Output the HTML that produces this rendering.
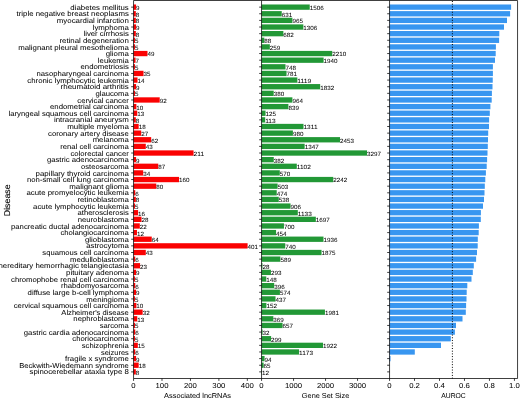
<!DOCTYPE html><html><head><meta charset="utf-8"><title>chart</title><style>html,body{margin:0;padding:0;background:#fff;width:520px;height:398px;overflow:hidden;}svg{display:block;}text{font-family:"Liberation Sans",sans-serif;text-rendering:geometricPrecision;fill:#000000;stroke:#000000;stroke-width:0.03px;}</style></head><body>
<svg width="520" height="398" viewBox="0 0 520 398">
<defs><filter id="g" filterUnits="userSpaceOnUse" x="0" y="0" width="520" height="398"><feOffset dx="0" dy="0"/></filter></defs>
<rect width="520" height="398" fill="#fff"/>
<rect x="133.55" y="4.48" width="2.56" height="5.31" fill="#fa0202"/>
<rect x="261.55" y="4.48" width="48.19" height="5.31" fill="#229836"/>
<rect x="389.55" y="4.48" width="121.55" height="5.31" fill="#3896f0"/>
<rect x="133.55" y="11.11" width="2.28" height="5.31" fill="#fa0202"/>
<rect x="261.55" y="11.11" width="20.19" height="5.31" fill="#229836"/>
<rect x="389.55" y="11.11" width="120.55" height="5.31" fill="#3896f0"/>
<rect x="133.55" y="17.74" width="2.28" height="5.31" fill="#fa0202"/>
<rect x="261.55" y="17.74" width="30.88" height="5.31" fill="#229836"/>
<rect x="389.55" y="17.74" width="117.45" height="5.31" fill="#3896f0"/>
<rect x="133.55" y="24.37" width="2.56" height="5.31" fill="#fa0202"/>
<rect x="261.55" y="24.37" width="41.79" height="5.31" fill="#229836"/>
<rect x="389.55" y="24.37" width="114.45" height="5.31" fill="#3896f0"/>
<rect x="133.55" y="31.01" width="2.28" height="5.31" fill="#fa0202"/>
<rect x="261.55" y="31.01" width="21.82" height="5.31" fill="#229836"/>
<rect x="389.55" y="31.01" width="109.75" height="5.31" fill="#3896f0"/>
<rect x="133.55" y="37.64" width="1.42" height="5.31" fill="#fa0202"/>
<rect x="261.55" y="37.64" width="2.82" height="5.31" fill="#229836"/>
<rect x="389.55" y="37.64" width="109.55" height="5.31" fill="#3896f0"/>
<rect x="133.55" y="44.27" width="1.42" height="5.31" fill="#fa0202"/>
<rect x="261.55" y="44.27" width="8.29" height="5.31" fill="#229836"/>
<rect x="389.55" y="44.27" width="106.35" height="5.31" fill="#3896f0"/>
<rect x="133.55" y="50.90" width="13.94" height="5.31" fill="#fa0202"/>
<rect x="261.55" y="50.90" width="70.72" height="5.31" fill="#229836"/>
<rect x="389.55" y="50.90" width="106.15" height="5.31" fill="#3896f0"/>
<rect x="133.55" y="57.53" width="1.99" height="5.31" fill="#fa0202"/>
<rect x="261.55" y="57.53" width="62.08" height="5.31" fill="#229836"/>
<rect x="389.55" y="57.53" width="105.45" height="5.31" fill="#3896f0"/>
<rect x="133.55" y="64.16" width="1.42" height="5.31" fill="#fa0202"/>
<rect x="261.55" y="64.16" width="23.94" height="5.31" fill="#229836"/>
<rect x="389.55" y="64.16" width="103.35" height="5.31" fill="#3896f0"/>
<rect x="133.55" y="70.79" width="9.96" height="5.31" fill="#fa0202"/>
<rect x="261.55" y="70.79" width="24.99" height="5.31" fill="#229836"/>
<rect x="389.55" y="70.79" width="103.35" height="5.31" fill="#3896f0"/>
<rect x="133.55" y="77.43" width="3.98" height="5.31" fill="#fa0202"/>
<rect x="261.55" y="77.43" width="35.81" height="5.31" fill="#229836"/>
<rect x="389.55" y="77.43" width="103.20" height="5.31" fill="#3896f0"/>
<rect x="133.55" y="84.06" width="2.56" height="5.31" fill="#fa0202"/>
<rect x="261.55" y="84.06" width="58.62" height="5.31" fill="#229836"/>
<rect x="389.55" y="84.06" width="102.95" height="5.31" fill="#3896f0"/>
<rect x="133.55" y="90.69" width="1.42" height="5.31" fill="#fa0202"/>
<rect x="261.55" y="90.69" width="12.16" height="5.31" fill="#229836"/>
<rect x="389.55" y="90.69" width="102.35" height="5.31" fill="#3896f0"/>
<rect x="133.55" y="97.32" width="26.17" height="5.31" fill="#fa0202"/>
<rect x="261.55" y="97.32" width="30.85" height="5.31" fill="#229836"/>
<rect x="389.55" y="97.32" width="102.15" height="5.31" fill="#3896f0"/>
<rect x="133.55" y="103.95" width="2.84" height="5.31" fill="#fa0202"/>
<rect x="261.55" y="103.95" width="26.85" height="5.31" fill="#229836"/>
<rect x="389.55" y="103.95" width="100.85" height="5.31" fill="#3896f0"/>
<rect x="133.55" y="110.58" width="3.70" height="5.31" fill="#fa0202"/>
<rect x="261.55" y="110.58" width="4.00" height="5.31" fill="#229836"/>
<rect x="389.55" y="110.58" width="100.25" height="5.31" fill="#3896f0"/>
<rect x="133.55" y="117.22" width="2.28" height="5.31" fill="#fa0202"/>
<rect x="261.55" y="117.22" width="3.62" height="5.31" fill="#229836"/>
<rect x="389.55" y="117.22" width="99.55" height="5.31" fill="#3896f0"/>
<rect x="133.55" y="123.85" width="5.12" height="5.31" fill="#fa0202"/>
<rect x="261.55" y="123.85" width="41.95" height="5.31" fill="#229836"/>
<rect x="389.55" y="123.85" width="99.45" height="5.31" fill="#3896f0"/>
<rect x="133.55" y="130.48" width="7.68" height="5.31" fill="#fa0202"/>
<rect x="261.55" y="130.48" width="31.36" height="5.31" fill="#229836"/>
<rect x="389.55" y="130.48" width="98.65" height="5.31" fill="#3896f0"/>
<rect x="133.55" y="137.11" width="17.64" height="5.31" fill="#fa0202"/>
<rect x="261.55" y="137.11" width="78.50" height="5.31" fill="#229836"/>
<rect x="389.55" y="137.11" width="98.45" height="5.31" fill="#3896f0"/>
<rect x="133.55" y="143.74" width="12.23" height="5.31" fill="#fa0202"/>
<rect x="261.55" y="143.74" width="43.10" height="5.31" fill="#229836"/>
<rect x="389.55" y="143.74" width="98.25" height="5.31" fill="#3896f0"/>
<rect x="133.55" y="150.37" width="60.02" height="5.31" fill="#fa0202"/>
<rect x="261.55" y="150.37" width="105.50" height="5.31" fill="#229836"/>
<rect x="389.55" y="150.37" width="97.95" height="5.31" fill="#3896f0"/>
<rect x="133.55" y="157.01" width="2.56" height="5.31" fill="#fa0202"/>
<rect x="261.55" y="157.01" width="12.22" height="5.31" fill="#229836"/>
<rect x="389.55" y="157.01" width="97.55" height="5.31" fill="#3896f0"/>
<rect x="133.55" y="163.64" width="24.75" height="5.31" fill="#fa0202"/>
<rect x="261.55" y="163.64" width="35.26" height="5.31" fill="#229836"/>
<rect x="389.55" y="163.64" width="97.15" height="5.31" fill="#3896f0"/>
<rect x="133.55" y="170.27" width="9.67" height="5.31" fill="#fa0202"/>
<rect x="261.55" y="170.27" width="18.24" height="5.31" fill="#229836"/>
<rect x="389.55" y="170.27" width="96.35" height="5.31" fill="#3896f0"/>
<rect x="133.55" y="176.90" width="45.51" height="5.31" fill="#fa0202"/>
<rect x="261.55" y="176.90" width="71.74" height="5.31" fill="#229836"/>
<rect x="389.55" y="176.90" width="95.75" height="5.31" fill="#3896f0"/>
<rect x="133.55" y="183.53" width="22.76" height="5.31" fill="#fa0202"/>
<rect x="261.55" y="183.53" width="16.10" height="5.31" fill="#229836"/>
<rect x="389.55" y="183.53" width="95.25" height="5.31" fill="#3896f0"/>
<rect x="133.55" y="190.16" width="1.71" height="5.31" fill="#fa0202"/>
<rect x="261.55" y="190.16" width="15.17" height="5.31" fill="#229836"/>
<rect x="389.55" y="190.16" width="94.95" height="5.31" fill="#3896f0"/>
<rect x="133.55" y="196.79" width="2.28" height="5.31" fill="#fa0202"/>
<rect x="261.55" y="196.79" width="17.22" height="5.31" fill="#229836"/>
<rect x="389.55" y="196.79" width="94.45" height="5.31" fill="#3896f0"/>
<rect x="133.55" y="203.43" width="1.42" height="5.31" fill="#fa0202"/>
<rect x="261.55" y="203.43" width="28.99" height="5.31" fill="#229836"/>
<rect x="389.55" y="203.43" width="93.45" height="5.31" fill="#3896f0"/>
<rect x="133.55" y="210.06" width="4.55" height="5.31" fill="#fa0202"/>
<rect x="261.55" y="210.06" width="36.26" height="5.31" fill="#229836"/>
<rect x="389.55" y="210.06" width="91.35" height="5.31" fill="#3896f0"/>
<rect x="133.55" y="216.69" width="7.96" height="5.31" fill="#fa0202"/>
<rect x="261.55" y="216.69" width="54.30" height="5.31" fill="#229836"/>
<rect x="389.55" y="216.69" width="91.25" height="5.31" fill="#3896f0"/>
<rect x="133.55" y="223.32" width="6.26" height="5.31" fill="#fa0202"/>
<rect x="261.55" y="223.32" width="22.40" height="5.31" fill="#229836"/>
<rect x="389.55" y="223.32" width="89.35" height="5.31" fill="#3896f0"/>
<rect x="133.55" y="229.95" width="3.41" height="5.31" fill="#fa0202"/>
<rect x="261.55" y="229.95" width="14.53" height="5.31" fill="#229836"/>
<rect x="389.55" y="229.95" width="89.15" height="5.31" fill="#3896f0"/>
<rect x="133.55" y="236.58" width="18.20" height="5.31" fill="#fa0202"/>
<rect x="261.55" y="236.58" width="61.95" height="5.31" fill="#229836"/>
<rect x="389.55" y="236.58" width="88.25" height="5.31" fill="#3896f0"/>
<rect x="133.55" y="243.22" width="114.06" height="5.31" fill="#fa0202"/>
<rect x="261.55" y="243.22" width="23.68" height="5.31" fill="#229836"/>
<rect x="389.55" y="243.22" width="88.15" height="5.31" fill="#3896f0"/>
<rect x="133.55" y="249.85" width="12.23" height="5.31" fill="#fa0202"/>
<rect x="261.55" y="249.85" width="60.00" height="5.31" fill="#229836"/>
<rect x="389.55" y="249.85" width="87.45" height="5.31" fill="#3896f0"/>
<rect x="133.55" y="256.48" width="1.71" height="5.31" fill="#fa0202"/>
<rect x="261.55" y="256.48" width="18.85" height="5.31" fill="#229836"/>
<rect x="389.55" y="256.48" width="86.55" height="5.31" fill="#3896f0"/>
<rect x="133.55" y="263.11" width="6.54" height="5.31" fill="#fa0202"/>
<rect x="261.55" y="263.11" width="0.90" height="5.31" fill="#229836"/>
<rect x="389.55" y="263.11" width="84.25" height="5.31" fill="#3896f0"/>
<rect x="133.55" y="269.74" width="2.56" height="5.31" fill="#fa0202"/>
<rect x="261.55" y="269.74" width="9.38" height="5.31" fill="#229836"/>
<rect x="389.55" y="269.74" width="83.25" height="5.31" fill="#3896f0"/>
<rect x="133.55" y="276.37" width="1.42" height="5.31" fill="#fa0202"/>
<rect x="261.55" y="276.37" width="4.74" height="5.31" fill="#229836"/>
<rect x="389.55" y="276.37" width="81.95" height="5.31" fill="#3896f0"/>
<rect x="133.55" y="283.01" width="1.71" height="5.31" fill="#fa0202"/>
<rect x="261.55" y="283.01" width="12.67" height="5.31" fill="#229836"/>
<rect x="389.55" y="283.01" width="77.75" height="5.31" fill="#3896f0"/>
<rect x="133.55" y="289.64" width="2.56" height="5.31" fill="#fa0202"/>
<rect x="261.55" y="289.64" width="18.37" height="5.31" fill="#229836"/>
<rect x="389.55" y="289.64" width="77.15" height="5.31" fill="#3896f0"/>
<rect x="133.55" y="296.27" width="1.42" height="5.31" fill="#fa0202"/>
<rect x="261.55" y="296.27" width="13.98" height="5.31" fill="#229836"/>
<rect x="389.55" y="296.27" width="76.95" height="5.31" fill="#3896f0"/>
<rect x="133.55" y="302.90" width="2.84" height="5.31" fill="#fa0202"/>
<rect x="261.55" y="302.90" width="4.86" height="5.31" fill="#229836"/>
<rect x="389.55" y="302.90" width="76.55" height="5.31" fill="#3896f0"/>
<rect x="133.55" y="309.53" width="9.10" height="5.31" fill="#fa0202"/>
<rect x="261.55" y="309.53" width="63.39" height="5.31" fill="#229836"/>
<rect x="389.55" y="309.53" width="76.25" height="5.31" fill="#3896f0"/>
<rect x="133.55" y="316.16" width="3.70" height="5.31" fill="#fa0202"/>
<rect x="261.55" y="316.16" width="11.81" height="5.31" fill="#229836"/>
<rect x="389.55" y="316.16" width="72.95" height="5.31" fill="#3896f0"/>
<rect x="133.55" y="322.79" width="1.42" height="5.31" fill="#fa0202"/>
<rect x="261.55" y="322.79" width="21.02" height="5.31" fill="#229836"/>
<rect x="389.55" y="322.79" width="66.45" height="5.31" fill="#3896f0"/>
<rect x="133.55" y="329.43" width="1.71" height="5.31" fill="#fa0202"/>
<rect x="261.55" y="329.43" width="1.02" height="5.31" fill="#229836"/>
<rect x="389.55" y="329.43" width="65.35" height="5.31" fill="#3896f0"/>
<rect x="133.55" y="336.06" width="1.42" height="5.31" fill="#fa0202"/>
<rect x="261.55" y="336.06" width="9.57" height="5.31" fill="#229836"/>
<rect x="389.55" y="336.06" width="61.25" height="5.31" fill="#3896f0"/>
<rect x="133.55" y="342.69" width="4.27" height="5.31" fill="#fa0202"/>
<rect x="261.55" y="342.69" width="61.50" height="5.31" fill="#229836"/>
<rect x="389.55" y="342.69" width="51.45" height="5.31" fill="#3896f0"/>
<rect x="133.55" y="349.32" width="1.71" height="5.31" fill="#fa0202"/>
<rect x="261.55" y="349.32" width="37.54" height="5.31" fill="#229836"/>
<rect x="389.55" y="349.32" width="25.25" height="5.31" fill="#3896f0"/>
<rect x="133.55" y="355.95" width="2.56" height="5.31" fill="#fa0202"/>
<rect x="261.55" y="355.95" width="3.01" height="5.31" fill="#229836"/>
<rect x="389.55" y="355.95" width="0.95" height="5.31" fill="#3896f0"/>
<rect x="133.55" y="362.58" width="5.12" height="5.31" fill="#fa0202"/>
<rect x="261.55" y="362.58" width="2.08" height="5.31" fill="#229836"/>
<rect x="133.55" y="369.22" width="2.28" height="5.31" fill="#fa0202"/>
<rect x="261.55" y="369.22" width="0.38" height="5.31" fill="#229836"/>
<line x1="452.39" y1="1.00" x2="452.39" y2="378.50" stroke="#000" stroke-width="1.00" stroke-dasharray="1.0 1.69"/>
<g filter="url(#g)">
<text x="136.11" y="10.03" font-size="6.00" textLength="3.50" lengthAdjust="spacingAndGlyphs">9</text>
<text x="309.74" y="10.03" font-size="6.00" textLength="14.00" lengthAdjust="spacingAndGlyphs">1506</text>
<text x="135.83" y="16.66" font-size="6.00" textLength="3.50" lengthAdjust="spacingAndGlyphs">8</text>
<text x="281.74" y="16.66" font-size="6.00" textLength="10.50" lengthAdjust="spacingAndGlyphs">631</text>
<text x="135.83" y="23.29" font-size="6.00" textLength="3.50" lengthAdjust="spacingAndGlyphs">8</text>
<text x="292.43" y="23.29" font-size="6.00" textLength="10.50" lengthAdjust="spacingAndGlyphs">965</text>
<text x="136.11" y="29.93" font-size="6.00" textLength="3.50" lengthAdjust="spacingAndGlyphs">9</text>
<text x="303.34" y="29.93" font-size="6.00" textLength="14.00" lengthAdjust="spacingAndGlyphs">1306</text>
<text x="135.83" y="36.56" font-size="6.00" textLength="3.50" lengthAdjust="spacingAndGlyphs">8</text>
<text x="283.37" y="36.56" font-size="6.00" textLength="10.50" lengthAdjust="spacingAndGlyphs">682</text>
<text x="134.97" y="43.19" font-size="6.00" textLength="3.50" lengthAdjust="spacingAndGlyphs">5</text>
<text x="264.37" y="43.19" font-size="6.00" textLength="7.00" lengthAdjust="spacingAndGlyphs">88</text>
<text x="134.97" y="49.82" font-size="6.00" textLength="3.50" lengthAdjust="spacingAndGlyphs">5</text>
<text x="269.84" y="49.82" font-size="6.00" textLength="10.50" lengthAdjust="spacingAndGlyphs">259</text>
<text x="147.49" y="56.45" font-size="6.00" textLength="7.00" lengthAdjust="spacingAndGlyphs">49</text>
<text x="332.27" y="56.45" font-size="6.00" textLength="14.00" lengthAdjust="spacingAndGlyphs">2210</text>
<text x="135.54" y="63.08" font-size="6.00" textLength="3.50" lengthAdjust="spacingAndGlyphs">7</text>
<text x="323.63" y="63.08" font-size="6.00" textLength="14.00" lengthAdjust="spacingAndGlyphs">1940</text>
<text x="134.97" y="69.72" font-size="6.00" textLength="3.50" lengthAdjust="spacingAndGlyphs">5</text>
<text x="285.49" y="69.72" font-size="6.00" textLength="10.50" lengthAdjust="spacingAndGlyphs">748</text>
<text x="143.51" y="76.35" font-size="6.00" textLength="7.00" lengthAdjust="spacingAndGlyphs">35</text>
<text x="286.54" y="76.35" font-size="6.00" textLength="10.50" lengthAdjust="spacingAndGlyphs">781</text>
<text x="137.53" y="82.98" font-size="6.00" textLength="7.00" lengthAdjust="spacingAndGlyphs">14</text>
<text x="297.36" y="82.98" font-size="6.00" textLength="14.00" lengthAdjust="spacingAndGlyphs">1119</text>
<text x="136.11" y="89.61" font-size="6.00" textLength="3.50" lengthAdjust="spacingAndGlyphs">9</text>
<text x="320.17" y="89.61" font-size="6.00" textLength="14.00" lengthAdjust="spacingAndGlyphs">1832</text>
<text x="134.97" y="96.24" font-size="6.00" textLength="3.50" lengthAdjust="spacingAndGlyphs">5</text>
<text x="273.71" y="96.24" font-size="6.00" textLength="10.50" lengthAdjust="spacingAndGlyphs">380</text>
<text x="159.72" y="102.87" font-size="6.00" textLength="7.00" lengthAdjust="spacingAndGlyphs">92</text>
<text x="292.40" y="102.87" font-size="6.00" textLength="10.50" lengthAdjust="spacingAndGlyphs">964</text>
<text x="136.39" y="109.51" font-size="6.00" textLength="7.00" lengthAdjust="spacingAndGlyphs">10</text>
<text x="288.40" y="109.51" font-size="6.00" textLength="10.50" lengthAdjust="spacingAndGlyphs">839</text>
<text x="137.25" y="116.14" font-size="6.00" textLength="7.00" lengthAdjust="spacingAndGlyphs">13</text>
<text x="265.55" y="116.14" font-size="6.00" textLength="10.50" lengthAdjust="spacingAndGlyphs">125</text>
<text x="135.83" y="122.77" font-size="6.00" textLength="3.50" lengthAdjust="spacingAndGlyphs">8</text>
<text x="265.17" y="122.77" font-size="6.00" textLength="10.50" lengthAdjust="spacingAndGlyphs">113</text>
<text x="138.67" y="129.40" font-size="6.00" textLength="7.00" lengthAdjust="spacingAndGlyphs">18</text>
<text x="303.50" y="129.40" font-size="6.00" textLength="14.00" lengthAdjust="spacingAndGlyphs">1311</text>
<text x="141.23" y="136.03" font-size="6.00" textLength="7.00" lengthAdjust="spacingAndGlyphs">27</text>
<text x="292.91" y="136.03" font-size="6.00" textLength="10.50" lengthAdjust="spacingAndGlyphs">980</text>
<text x="151.19" y="142.66" font-size="6.00" textLength="7.00" lengthAdjust="spacingAndGlyphs">62</text>
<text x="340.05" y="142.66" font-size="6.00" textLength="14.00" lengthAdjust="spacingAndGlyphs">2453</text>
<text x="145.78" y="149.29" font-size="6.00" textLength="7.00" lengthAdjust="spacingAndGlyphs">43</text>
<text x="304.65" y="149.29" font-size="6.00" textLength="14.00" lengthAdjust="spacingAndGlyphs">1347</text>
<text x="193.57" y="155.93" font-size="6.00" textLength="10.50" lengthAdjust="spacingAndGlyphs">211</text>
<text x="367.05" y="155.93" font-size="6.00" textLength="14.00" lengthAdjust="spacingAndGlyphs">3297</text>
<text x="136.11" y="162.56" font-size="6.00" textLength="3.50" lengthAdjust="spacingAndGlyphs">9</text>
<text x="273.77" y="162.56" font-size="6.00" textLength="10.50" lengthAdjust="spacingAndGlyphs">382</text>
<text x="158.30" y="169.19" font-size="6.00" textLength="7.00" lengthAdjust="spacingAndGlyphs">87</text>
<text x="296.81" y="169.19" font-size="6.00" textLength="14.00" lengthAdjust="spacingAndGlyphs">1102</text>
<text x="143.22" y="175.82" font-size="6.00" textLength="7.00" lengthAdjust="spacingAndGlyphs">34</text>
<text x="279.79" y="175.82" font-size="6.00" textLength="10.50" lengthAdjust="spacingAndGlyphs">570</text>
<text x="179.06" y="182.45" font-size="6.00" textLength="10.50" lengthAdjust="spacingAndGlyphs">160</text>
<text x="333.29" y="182.45" font-size="6.00" textLength="14.00" lengthAdjust="spacingAndGlyphs">2242</text>
<text x="156.31" y="189.08" font-size="6.00" textLength="7.00" lengthAdjust="spacingAndGlyphs">80</text>
<text x="277.65" y="189.08" font-size="6.00" textLength="10.50" lengthAdjust="spacingAndGlyphs">503</text>
<text x="135.26" y="195.72" font-size="6.00" textLength="3.50" lengthAdjust="spacingAndGlyphs">6</text>
<text x="276.72" y="195.72" font-size="6.00" textLength="10.50" lengthAdjust="spacingAndGlyphs">474</text>
<text x="135.83" y="202.35" font-size="6.00" textLength="3.50" lengthAdjust="spacingAndGlyphs">8</text>
<text x="278.77" y="202.35" font-size="6.00" textLength="10.50" lengthAdjust="spacingAndGlyphs">538</text>
<text x="134.97" y="208.98" font-size="6.00" textLength="3.50" lengthAdjust="spacingAndGlyphs">5</text>
<text x="290.54" y="208.98" font-size="6.00" textLength="10.50" lengthAdjust="spacingAndGlyphs">906</text>
<text x="138.10" y="215.61" font-size="6.00" textLength="7.00" lengthAdjust="spacingAndGlyphs">16</text>
<text x="297.81" y="215.61" font-size="6.00" textLength="14.00" lengthAdjust="spacingAndGlyphs">1133</text>
<text x="141.51" y="222.24" font-size="6.00" textLength="7.00" lengthAdjust="spacingAndGlyphs">28</text>
<text x="315.85" y="222.24" font-size="6.00" textLength="14.00" lengthAdjust="spacingAndGlyphs">1697</text>
<text x="139.81" y="228.87" font-size="6.00" textLength="7.00" lengthAdjust="spacingAndGlyphs">22</text>
<text x="283.95" y="228.87" font-size="6.00" textLength="10.50" lengthAdjust="spacingAndGlyphs">700</text>
<text x="136.96" y="235.51" font-size="6.00" textLength="7.00" lengthAdjust="spacingAndGlyphs">12</text>
<text x="276.08" y="235.51" font-size="6.00" textLength="10.50" lengthAdjust="spacingAndGlyphs">454</text>
<text x="151.75" y="242.14" font-size="6.00" textLength="7.00" lengthAdjust="spacingAndGlyphs">64</text>
<text x="323.50" y="242.14" font-size="6.00" textLength="14.00" lengthAdjust="spacingAndGlyphs">1936</text>
<text x="247.61" y="248.77" font-size="6.00" textLength="10.50" lengthAdjust="spacingAndGlyphs">401</text>
<text x="285.23" y="248.77" font-size="6.00" textLength="10.50" lengthAdjust="spacingAndGlyphs">740</text>
<text x="145.78" y="255.40" font-size="6.00" textLength="7.00" lengthAdjust="spacingAndGlyphs">43</text>
<text x="321.55" y="255.40" font-size="6.00" textLength="14.00" lengthAdjust="spacingAndGlyphs">1875</text>
<text x="135.26" y="262.03" font-size="6.00" textLength="3.50" lengthAdjust="spacingAndGlyphs">6</text>
<text x="280.40" y="262.03" font-size="6.00" textLength="10.50" lengthAdjust="spacingAndGlyphs">589</text>
<text x="140.09" y="268.66" font-size="6.00" textLength="7.00" lengthAdjust="spacingAndGlyphs">23</text>
<text x="262.45" y="268.66" font-size="6.00" textLength="7.00" lengthAdjust="spacingAndGlyphs">28</text>
<text x="136.11" y="275.29" font-size="6.00" textLength="3.50" lengthAdjust="spacingAndGlyphs">9</text>
<text x="270.93" y="275.29" font-size="6.00" textLength="10.50" lengthAdjust="spacingAndGlyphs">293</text>
<text x="134.97" y="281.93" font-size="6.00" textLength="3.50" lengthAdjust="spacingAndGlyphs">5</text>
<text x="266.29" y="281.93" font-size="6.00" textLength="10.50" lengthAdjust="spacingAndGlyphs">148</text>
<text x="135.26" y="288.56" font-size="6.00" textLength="3.50" lengthAdjust="spacingAndGlyphs">6</text>
<text x="274.22" y="288.56" font-size="6.00" textLength="10.50" lengthAdjust="spacingAndGlyphs">396</text>
<text x="136.11" y="295.19" font-size="6.00" textLength="3.50" lengthAdjust="spacingAndGlyphs">9</text>
<text x="279.92" y="295.19" font-size="6.00" textLength="10.50" lengthAdjust="spacingAndGlyphs">574</text>
<text x="134.97" y="301.82" font-size="6.00" textLength="3.50" lengthAdjust="spacingAndGlyphs">5</text>
<text x="275.53" y="301.82" font-size="6.00" textLength="10.50" lengthAdjust="spacingAndGlyphs">437</text>
<text x="136.39" y="308.45" font-size="6.00" textLength="7.00" lengthAdjust="spacingAndGlyphs">10</text>
<text x="266.41" y="308.45" font-size="6.00" textLength="10.50" lengthAdjust="spacingAndGlyphs">152</text>
<text x="142.65" y="315.08" font-size="6.00" textLength="7.00" lengthAdjust="spacingAndGlyphs">32</text>
<text x="324.94" y="315.08" font-size="6.00" textLength="14.00" lengthAdjust="spacingAndGlyphs">1981</text>
<text x="137.25" y="321.72" font-size="6.00" textLength="7.00" lengthAdjust="spacingAndGlyphs">13</text>
<text x="273.36" y="321.72" font-size="6.00" textLength="10.50" lengthAdjust="spacingAndGlyphs">369</text>
<text x="134.97" y="328.35" font-size="6.00" textLength="3.50" lengthAdjust="spacingAndGlyphs">5</text>
<text x="282.57" y="328.35" font-size="6.00" textLength="10.50" lengthAdjust="spacingAndGlyphs">657</text>
<text x="135.26" y="334.98" font-size="6.00" textLength="3.50" lengthAdjust="spacingAndGlyphs">6</text>
<text x="262.57" y="334.98" font-size="6.00" textLength="7.00" lengthAdjust="spacingAndGlyphs">32</text>
<text x="134.97" y="341.61" font-size="6.00" textLength="3.50" lengthAdjust="spacingAndGlyphs">5</text>
<text x="271.12" y="341.61" font-size="6.00" textLength="10.50" lengthAdjust="spacingAndGlyphs">299</text>
<text x="137.82" y="348.24" font-size="6.00" textLength="7.00" lengthAdjust="spacingAndGlyphs">15</text>
<text x="323.05" y="348.24" font-size="6.00" textLength="14.00" lengthAdjust="spacingAndGlyphs">1922</text>
<text x="135.26" y="354.87" font-size="6.00" textLength="3.50" lengthAdjust="spacingAndGlyphs">6</text>
<text x="299.09" y="354.87" font-size="6.00" textLength="14.00" lengthAdjust="spacingAndGlyphs">1173</text>
<text x="136.11" y="361.51" font-size="6.00" textLength="3.50" lengthAdjust="spacingAndGlyphs">9</text>
<text x="264.56" y="361.51" font-size="6.00" textLength="7.00" lengthAdjust="spacingAndGlyphs">94</text>
<text x="138.67" y="368.14" font-size="6.00" textLength="7.00" lengthAdjust="spacingAndGlyphs">18</text>
<text x="263.63" y="368.14" font-size="6.00" textLength="7.00" lengthAdjust="spacingAndGlyphs">65</text>
<text x="135.83" y="374.77" font-size="6.00" textLength="3.50" lengthAdjust="spacingAndGlyphs">8</text>
<text x="261.93" y="374.77" font-size="6.00" textLength="7.00" lengthAdjust="spacingAndGlyphs">12</text>
<text x="128.81" y="9.72" font-size="7.15" text-anchor="end" textLength="58.42" lengthAdjust="spacingAndGlyphs">diabetes mellitus</text>
<text x="128.81" y="16.35" font-size="7.15" text-anchor="end" textLength="112.22" lengthAdjust="spacingAndGlyphs">triple negative breast neoplasms</text>
<text x="128.81" y="22.98" font-size="7.15" text-anchor="end" textLength="71.98" lengthAdjust="spacingAndGlyphs">myocardial infarction</text>
<text x="128.81" y="29.61" font-size="7.15" text-anchor="end" textLength="36.12" lengthAdjust="spacingAndGlyphs">lymphoma</text>
<text x="128.81" y="36.24" font-size="7.15" text-anchor="end" textLength="45.37" lengthAdjust="spacingAndGlyphs">liver cirrhosis</text>
<text x="128.81" y="42.87" font-size="7.15" text-anchor="end" textLength="69.39" lengthAdjust="spacingAndGlyphs">retinal degeneration</text>
<text x="128.81" y="49.51" font-size="7.15" text-anchor="end" textLength="110.61" lengthAdjust="spacingAndGlyphs">malignant pleural mesothelioma</text>
<text x="128.81" y="56.14" font-size="7.15" text-anchor="end" textLength="23.05" lengthAdjust="spacingAndGlyphs">glioma</text>
<text x="128.81" y="62.77" font-size="7.15" text-anchor="end" textLength="30.94" lengthAdjust="spacingAndGlyphs">leukemia</text>
<text x="128.81" y="69.40" font-size="7.15" text-anchor="end" textLength="48.26" lengthAdjust="spacingAndGlyphs">endometriosis</text>
<text x="128.81" y="76.03" font-size="7.15" text-anchor="end" textLength="92.26" lengthAdjust="spacingAndGlyphs">nasopharyngeal carcinoma</text>
<text x="128.81" y="82.66" font-size="7.15" text-anchor="end" textLength="101.44" lengthAdjust="spacingAndGlyphs">chronic lymphocytic leukemia</text>
<text x="128.81" y="89.29" font-size="7.15" text-anchor="end" textLength="68.19" lengthAdjust="spacingAndGlyphs">rheumatoid arthritis</text>
<text x="128.81" y="95.93" font-size="7.15" text-anchor="end" textLength="33.37" lengthAdjust="spacingAndGlyphs">glaucoma</text>
<text x="128.81" y="102.56" font-size="7.15" text-anchor="end" textLength="51.52" lengthAdjust="spacingAndGlyphs">cervical cancer</text>
<text x="128.81" y="109.19" font-size="7.15" text-anchor="end" textLength="78.79" lengthAdjust="spacingAndGlyphs">endometrial carcinoma</text>
<text x="128.81" y="115.82" font-size="7.15" text-anchor="end" textLength="120.34" lengthAdjust="spacingAndGlyphs">laryngeal squamous cell carcinoma</text>
<text x="128.81" y="122.45" font-size="7.15" text-anchor="end" textLength="74.90" lengthAdjust="spacingAndGlyphs">intracranial aneurysm</text>
<text x="128.81" y="129.08" font-size="7.15" text-anchor="end" textLength="61.60" lengthAdjust="spacingAndGlyphs">multiple myeloma</text>
<text x="128.81" y="135.72" font-size="7.15" text-anchor="end" textLength="80.78" lengthAdjust="spacingAndGlyphs">coronary artery disease</text>
<text x="128.81" y="142.35" font-size="7.15" text-anchor="end" textLength="36.13" lengthAdjust="spacingAndGlyphs">melanoma</text>
<text x="128.81" y="148.98" font-size="7.15" text-anchor="end" textLength="68.66" lengthAdjust="spacingAndGlyphs">renal cell carcinoma</text>
<text x="128.81" y="155.61" font-size="7.15" text-anchor="end" textLength="58.33" lengthAdjust="spacingAndGlyphs">colorectal cancer</text>
<text x="128.81" y="162.24" font-size="7.15" text-anchor="end" textLength="81.86" lengthAdjust="spacingAndGlyphs">gastric adenocarcinoma</text>
<text x="128.81" y="168.87" font-size="7.15" text-anchor="end" textLength="47.76" lengthAdjust="spacingAndGlyphs">osteosarcoma</text>
<text x="128.81" y="175.51" font-size="7.15" text-anchor="end" textLength="93.23" lengthAdjust="spacingAndGlyphs">papillary thyroid carcinoma</text>
<text x="128.81" y="182.14" font-size="7.15" text-anchor="end" textLength="101.80" lengthAdjust="spacingAndGlyphs">non-small cell lung carcinoma</text>
<text x="128.81" y="188.77" font-size="7.15" text-anchor="end" textLength="59.55" lengthAdjust="spacingAndGlyphs">malignant glioma</text>
<text x="128.81" y="195.40" font-size="7.15" text-anchor="end" textLength="102.39" lengthAdjust="spacingAndGlyphs">acute promyelocytic leukemia</text>
<text x="128.81" y="202.03" font-size="7.15" text-anchor="end" textLength="51.39" lengthAdjust="spacingAndGlyphs">retinoblastoma</text>
<text x="128.81" y="208.66" font-size="7.15" text-anchor="end" textLength="95.71" lengthAdjust="spacingAndGlyphs">acute lymphocytic leukemia</text>
<text x="128.81" y="215.29" font-size="7.15" text-anchor="end" textLength="51.27" lengthAdjust="spacingAndGlyphs">atherosclerosis</text>
<text x="128.81" y="221.93" font-size="7.15" text-anchor="end" textLength="51.14" lengthAdjust="spacingAndGlyphs">neuroblastoma</text>
<text x="128.81" y="228.56" font-size="7.15" text-anchor="end" textLength="117.81" lengthAdjust="spacingAndGlyphs">pancreatic ductal adenocarcinoma</text>
<text x="128.81" y="235.19" font-size="7.15" text-anchor="end" textLength="68.38" lengthAdjust="spacingAndGlyphs">cholangiocarcinoma</text>
<text x="128.81" y="241.82" font-size="7.15" text-anchor="end" textLength="43.79" lengthAdjust="spacingAndGlyphs">glioblastoma</text>
<text x="128.81" y="248.45" font-size="7.15" text-anchor="end" textLength="42.56" lengthAdjust="spacingAndGlyphs">astrocytoma</text>
<text x="128.81" y="255.08" font-size="7.15" text-anchor="end" textLength="86.44" lengthAdjust="spacingAndGlyphs">squamous cell carcinoma</text>
<text x="128.81" y="261.72" font-size="7.15" text-anchor="end" textLength="58.91" lengthAdjust="spacingAndGlyphs">medulloblastoma</text>
<text x="128.81" y="268.35" font-size="7.15" text-anchor="end" textLength="130.33" lengthAdjust="spacingAndGlyphs">hereditary hemorrhagic telangiectasia</text>
<text x="128.81" y="274.98" font-size="7.15" text-anchor="end" textLength="62.81" lengthAdjust="spacingAndGlyphs">pituitary adenoma</text>
<text x="128.81" y="281.61" font-size="7.15" text-anchor="end" textLength="117.75" lengthAdjust="spacingAndGlyphs">chromophobe renal cell carcinoma</text>
<text x="128.81" y="288.24" font-size="7.15" text-anchor="end" textLength="67.80" lengthAdjust="spacingAndGlyphs">rhabdomyosarcoma</text>
<text x="128.81" y="294.87" font-size="7.15" text-anchor="end" textLength="101.23" lengthAdjust="spacingAndGlyphs">diffuse large b-cell lymphoma</text>
<text x="128.81" y="301.51" font-size="7.15" text-anchor="end" textLength="42.47" lengthAdjust="spacingAndGlyphs">meningioma</text>
<text x="128.81" y="308.14" font-size="7.15" text-anchor="end" textLength="115.03" lengthAdjust="spacingAndGlyphs">cervical squamous cell carcinoma</text>
<text x="128.81" y="314.77" font-size="7.15" text-anchor="end" textLength="67.50" lengthAdjust="spacingAndGlyphs">Alzheimer&#39;s disease</text>
<text x="128.81" y="321.40" font-size="7.15" text-anchor="end" textLength="55.46" lengthAdjust="spacingAndGlyphs">nephroblastoma</text>
<text x="128.81" y="328.03" font-size="7.15" text-anchor="end" textLength="29.05" lengthAdjust="spacingAndGlyphs">sarcoma</text>
<text x="128.81" y="334.66" font-size="7.15" text-anchor="end" textLength="104.97" lengthAdjust="spacingAndGlyphs">gastric cardia adenocarcinoma</text>
<text x="128.81" y="341.29" font-size="7.15" text-anchor="end" textLength="56.50" lengthAdjust="spacingAndGlyphs">choriocarcinoma</text>
<text x="128.81" y="347.93" font-size="7.15" text-anchor="end" textLength="47.03" lengthAdjust="spacingAndGlyphs">schizophrenia</text>
<text x="128.81" y="354.56" font-size="7.15" text-anchor="end" textLength="27.87" lengthAdjust="spacingAndGlyphs">seizures</text>
<text x="128.81" y="361.19" font-size="7.15" text-anchor="end" textLength="63.79" lengthAdjust="spacingAndGlyphs">fragile x syndrome</text>
<text x="128.81" y="367.82" font-size="7.15" text-anchor="end" textLength="109.66" lengthAdjust="spacingAndGlyphs">Beckwith-Wiedemann syndrome</text>
<text x="128.81" y="374.45" font-size="7.15" text-anchor="end" textLength="99.29" lengthAdjust="spacingAndGlyphs">spinocerebellar ataxia type 8</text>
<text x="133.55" y="388.41" font-size="7.15" text-anchor="middle" textLength="4.33" lengthAdjust="spacingAndGlyphs">0</text>
<text x="161.99" y="388.41" font-size="7.15" text-anchor="middle" textLength="12.98" lengthAdjust="spacingAndGlyphs">100</text>
<text x="190.44" y="388.41" font-size="7.15" text-anchor="middle" textLength="12.98" lengthAdjust="spacingAndGlyphs">200</text>
<text x="218.88" y="388.41" font-size="7.15" text-anchor="middle" textLength="12.98" lengthAdjust="spacingAndGlyphs">300</text>
<text x="247.33" y="388.41" font-size="7.15" text-anchor="middle" textLength="12.98" lengthAdjust="spacingAndGlyphs">400</text>
<text x="261.55" y="388.41" font-size="7.15" text-anchor="middle" textLength="4.33" lengthAdjust="spacingAndGlyphs">0</text>
<text x="293.55" y="388.41" font-size="7.15" text-anchor="middle" textLength="17.31" lengthAdjust="spacingAndGlyphs">1000</text>
<text x="325.55" y="388.41" font-size="7.15" text-anchor="middle" textLength="17.31" lengthAdjust="spacingAndGlyphs">2000</text>
<text x="357.55" y="388.41" font-size="7.15" text-anchor="middle" textLength="17.31" lengthAdjust="spacingAndGlyphs">3000</text>
<text x="389.55" y="388.41" font-size="7.15" text-anchor="middle" textLength="4.33" lengthAdjust="spacingAndGlyphs">0</text>
<text x="414.53" y="388.41" font-size="7.15" text-anchor="middle" textLength="10.81" lengthAdjust="spacingAndGlyphs">0.2</text>
<text x="439.50" y="388.41" font-size="7.15" text-anchor="middle" textLength="10.81" lengthAdjust="spacingAndGlyphs">0.4</text>
<text x="464.48" y="388.41" font-size="7.15" text-anchor="middle" textLength="10.81" lengthAdjust="spacingAndGlyphs">0.6</text>
<text x="489.45" y="388.41" font-size="7.15" text-anchor="middle" textLength="10.81" lengthAdjust="spacingAndGlyphs">0.8</text>
<text x="514.43" y="388.41" font-size="7.15" text-anchor="middle" textLength="10.81" lengthAdjust="spacingAndGlyphs">1.0</text>
<text x="197.55" y="397.50" font-size="7.15" text-anchor="middle" textLength="66.96" lengthAdjust="spacingAndGlyphs">Associated lncRNAs</text>
<text x="325.55" y="397.50" font-size="7.15" text-anchor="middle" textLength="47.39" lengthAdjust="spacingAndGlyphs">Gene Set Size</text>
<text x="453.55" y="397.50" font-size="7.15" text-anchor="middle" textLength="24.45" lengthAdjust="spacingAndGlyphs">AUROC</text>
<text transform="translate(10.10 200.30) rotate(-90)" x="0" y="0" font-size="8.40" text-anchor="middle" textLength="31.86" lengthAdjust="spacingAndGlyphs" style="stroke:#000000;stroke-width:0.12px">Disease</text>
</g>
<path d="M131.18 7.13L133.55 7.13M131.18 13.76L133.55 13.76M131.18 20.39L133.55 20.39M131.18 27.03L133.55 27.03M131.18 33.66L133.55 33.66M131.18 40.29L133.55 40.29M131.18 46.92L133.55 46.92M131.18 53.55L133.55 53.55M131.18 60.18L133.55 60.18M131.18 66.82L133.55 66.82M131.18 73.45L133.55 73.45M131.18 80.08L133.55 80.08M131.18 86.71L133.55 86.71M131.18 93.34L133.55 93.34M131.18 99.97L133.55 99.97M131.18 106.61L133.55 106.61M131.18 113.24L133.55 113.24M131.18 119.87L133.55 119.87M131.18 126.50L133.55 126.50M131.18 133.13L133.55 133.13M131.18 139.76L133.55 139.76M131.18 146.39L133.55 146.39M131.18 153.03L133.55 153.03M131.18 159.66L133.55 159.66M131.18 166.29L133.55 166.29M131.18 172.92L133.55 172.92M131.18 179.55L133.55 179.55M131.18 186.18L133.55 186.18M131.18 192.82L133.55 192.82M131.18 199.45L133.55 199.45M131.18 206.08L133.55 206.08M131.18 212.71L133.55 212.71M131.18 219.34L133.55 219.34M131.18 225.97L133.55 225.97M131.18 232.61L133.55 232.61M131.18 239.24L133.55 239.24M131.18 245.87L133.55 245.87M131.18 252.50L133.55 252.50M131.18 259.13L133.55 259.13M131.18 265.76L133.55 265.76M131.18 272.39L133.55 272.39M131.18 279.03L133.55 279.03M131.18 285.66L133.55 285.66M131.18 292.29L133.55 292.29M131.18 298.92L133.55 298.92M131.18 305.55L133.55 305.55M131.18 312.18L133.55 312.18M131.18 318.82L133.55 318.82M131.18 325.45L133.55 325.45M131.18 332.08L133.55 332.08M131.18 338.71L133.55 338.71M131.18 345.34L133.55 345.34M131.18 351.97L133.55 351.97M131.18 358.61L133.55 358.61M131.18 365.24L133.55 365.24M131.18 371.87L133.55 371.87M259.18 7.13L261.55 7.13M259.18 13.76L261.55 13.76M259.18 20.39L261.55 20.39M259.18 27.03L261.55 27.03M259.18 33.66L261.55 33.66M259.18 40.29L261.55 40.29M259.18 46.92L261.55 46.92M259.18 53.55L261.55 53.55M259.18 60.18L261.55 60.18M259.18 66.82L261.55 66.82M259.18 73.45L261.55 73.45M259.18 80.08L261.55 80.08M259.18 86.71L261.55 86.71M259.18 93.34L261.55 93.34M259.18 99.97L261.55 99.97M259.18 106.61L261.55 106.61M259.18 113.24L261.55 113.24M259.18 119.87L261.55 119.87M259.18 126.50L261.55 126.50M259.18 133.13L261.55 133.13M259.18 139.76L261.55 139.76M259.18 146.39L261.55 146.39M259.18 153.03L261.55 153.03M259.18 159.66L261.55 159.66M259.18 166.29L261.55 166.29M259.18 172.92L261.55 172.92M259.18 179.55L261.55 179.55M259.18 186.18L261.55 186.18M259.18 192.82L261.55 192.82M259.18 199.45L261.55 199.45M259.18 206.08L261.55 206.08M259.18 212.71L261.55 212.71M259.18 219.34L261.55 219.34M259.18 225.97L261.55 225.97M259.18 232.61L261.55 232.61M259.18 239.24L261.55 239.24M259.18 245.87L261.55 245.87M259.18 252.50L261.55 252.50M259.18 259.13L261.55 259.13M259.18 265.76L261.55 265.76M259.18 272.39L261.55 272.39M259.18 279.03L261.55 279.03M259.18 285.66L261.55 285.66M259.18 292.29L261.55 292.29M259.18 298.92L261.55 298.92M259.18 305.55L261.55 305.55M259.18 312.18L261.55 312.18M259.18 318.82L261.55 318.82M259.18 325.45L261.55 325.45M259.18 332.08L261.55 332.08M259.18 338.71L261.55 338.71M259.18 345.34L261.55 345.34M259.18 351.97L261.55 351.97M259.18 358.61L261.55 358.61M259.18 365.24L261.55 365.24M259.18 371.87L261.55 371.87M387.18 7.13L389.55 7.13M387.18 13.76L389.55 13.76M387.18 20.39L389.55 20.39M387.18 27.03L389.55 27.03M387.18 33.66L389.55 33.66M387.18 40.29L389.55 40.29M387.18 46.92L389.55 46.92M387.18 53.55L389.55 53.55M387.18 60.18L389.55 60.18M387.18 66.82L389.55 66.82M387.18 73.45L389.55 73.45M387.18 80.08L389.55 80.08M387.18 86.71L389.55 86.71M387.18 93.34L389.55 93.34M387.18 99.97L389.55 99.97M387.18 106.61L389.55 106.61M387.18 113.24L389.55 113.24M387.18 119.87L389.55 119.87M387.18 126.50L389.55 126.50M387.18 133.13L389.55 133.13M387.18 139.76L389.55 139.76M387.18 146.39L389.55 146.39M387.18 153.03L389.55 153.03M387.18 159.66L389.55 159.66M387.18 166.29L389.55 166.29M387.18 172.92L389.55 172.92M387.18 179.55L389.55 179.55M387.18 186.18L389.55 186.18M387.18 192.82L389.55 192.82M387.18 199.45L389.55 199.45M387.18 206.08L389.55 206.08M387.18 212.71L389.55 212.71M387.18 219.34L389.55 219.34M387.18 225.97L389.55 225.97M387.18 232.61L389.55 232.61M387.18 239.24L389.55 239.24M387.18 245.87L389.55 245.87M387.18 252.50L389.55 252.50M387.18 259.13L389.55 259.13M387.18 265.76L389.55 265.76M387.18 272.39L389.55 272.39M387.18 279.03L389.55 279.03M387.18 285.66L389.55 285.66M387.18 292.29L389.55 292.29M387.18 298.92L389.55 298.92M387.18 305.55L389.55 305.55M387.18 312.18L389.55 312.18M387.18 318.82L389.55 318.82M387.18 325.45L389.55 325.45M387.18 332.08L389.55 332.08M387.18 338.71L389.55 338.71M387.18 345.34L389.55 345.34M387.18 351.97L389.55 351.97M387.18 358.61L389.55 358.61M387.18 365.24L389.55 365.24M387.18 371.87L389.55 371.87M133.55 378.50L133.55 380.87M161.99 378.50L161.99 380.87M190.44 378.50L190.44 380.87M218.88 378.50L218.88 380.87M247.33 378.50L247.33 380.87M261.55 378.50L261.55 380.87M293.55 378.50L293.55 380.87M325.55 378.50L325.55 380.87M357.55 378.50L357.55 380.87M389.55 378.50L389.55 380.87M414.53 378.50L414.53 380.87M439.50 378.50L439.50 380.87M464.48 378.50L464.48 380.87M489.45 378.50L489.45 380.87M514.43 378.50L514.43 380.87" stroke="#000" stroke-width="0.75" fill="none"/>
<path d="M133.55 0.50H517.55V378.50H133.55ZM261.55 0.50V378.50M389.55 0.50V378.50" stroke="#000" stroke-width="0.75" fill="none"/>
</svg></body></html>
